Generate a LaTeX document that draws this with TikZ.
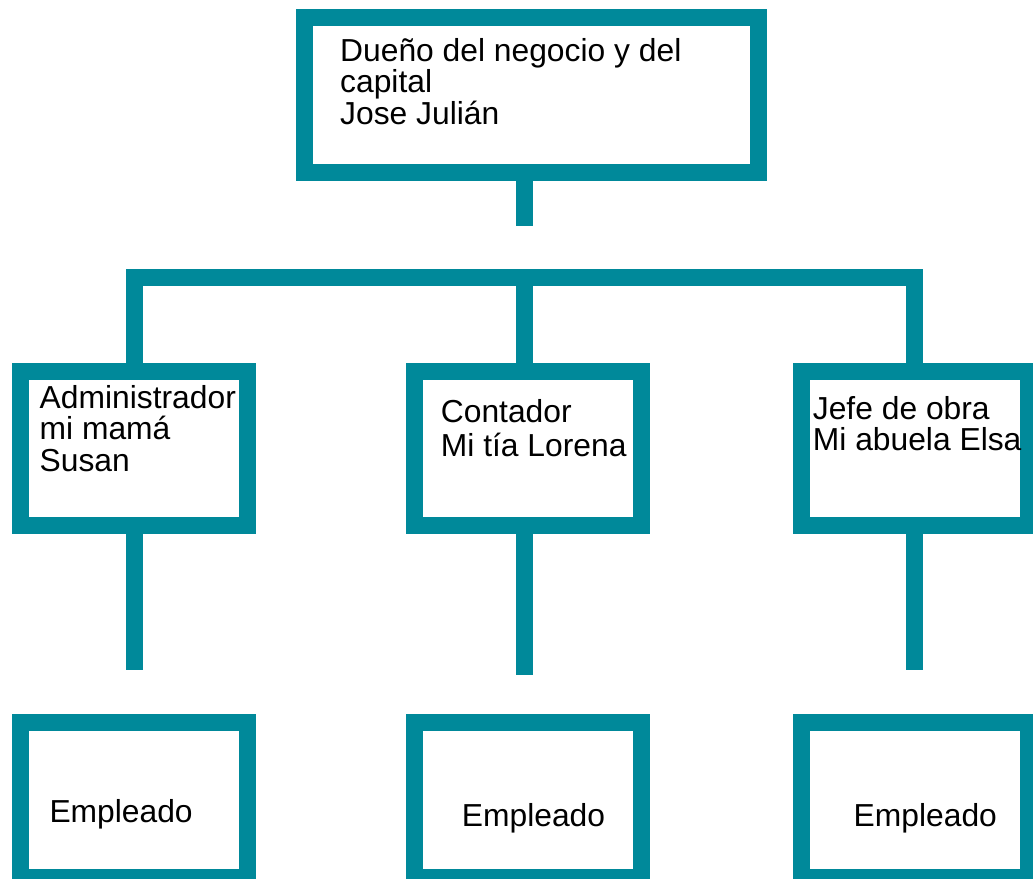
\documentclass[tikz,border=0pt]{standalone}
\usepackage{fontspec}
\setmainfont{Liberation Sans}
\definecolor{teal1}{HTML}{00899A}
\begin{document}
\begin{tikzpicture}[x=1pt,y=-1pt,
  box/.style={draw=teal1,line width=17pt,fill=white,rectangle,inner sep=0pt,minimum width=227pt,minimum height=154.4pt},
  lbl/.style={inner sep=0pt,anchor=base west,align=left,font=\fontsize{31.8}{31.6}\selectfont},
  conn/.style={draw=teal1,line width=17pt,line join=miter}]
\useasboundingbox (0,0) rectangle (1033,878);
% boxes
\node[box,minimum width=454.3pt,minimum height=154.6pt] (top) at (531.8,95) {};
\node[box] (adm) at (134.2,448.6) {};
\node[box] (con) at (527.5,448.6) {};
\node[box] (jef) at (914.7,448.6) {};
\node[box] (e1) at (134.2,800) {};
\node[box] (e2) at (527.5,800) {};
\node[box] (e3) at (914.7,800) {};
% coordinates
\coordinate (tstub) at (524.3,225.7);
\coordinate (barl) at (134,277.2);
\coordinate (barm) at (524.3,277.2);
\coordinate (barr) at (914.6,277.2);
\coordinate (s1) at (134,670);
\coordinate (s2) at (524.2,675);
\coordinate (s3) at (914.4,670);
% connectors
\draw[conn] (tstub |- top.south) -- (tstub);
\draw[conn] (adm.north -| barl) -- (barl) -- (barr) -- (adm.north -| barr);
\draw[conn] (barm) -- (barm |- con.north);
\draw[conn] (s1 |- adm.south) -- (s1);
\draw[conn] (s2 |- con.south) -- (s2);
\draw[conn] (s3 |- jef.south) -- (s3);
% texts (anchor = baseline of last line)
\node[lbl] (ttop) at (340,124.2) {Dueño del negocio y del\\capital\\Jose Julián};
\node[lbl] (tadm) at (39.5,471.5) {Administrador\\mi mamá\\Susan};
\node[lbl,font=\fontsize{31.8}{33.5}\selectfont] (tcon) at (440.7,456.2) {Contador\\Mi tía Lorena};
\node[lbl] (tjef) at (812.7,450.6) {Jefe de obra\\Mi abuela Elsa};
\node[lbl] (te1) at (49.3,822.7) {Empleado};
\node[lbl] (te2) at (461.7,826) {Empleado};
\node[lbl] (te3) at (853.5,826) {Empleado};
\end{tikzpicture}
\end{document}
